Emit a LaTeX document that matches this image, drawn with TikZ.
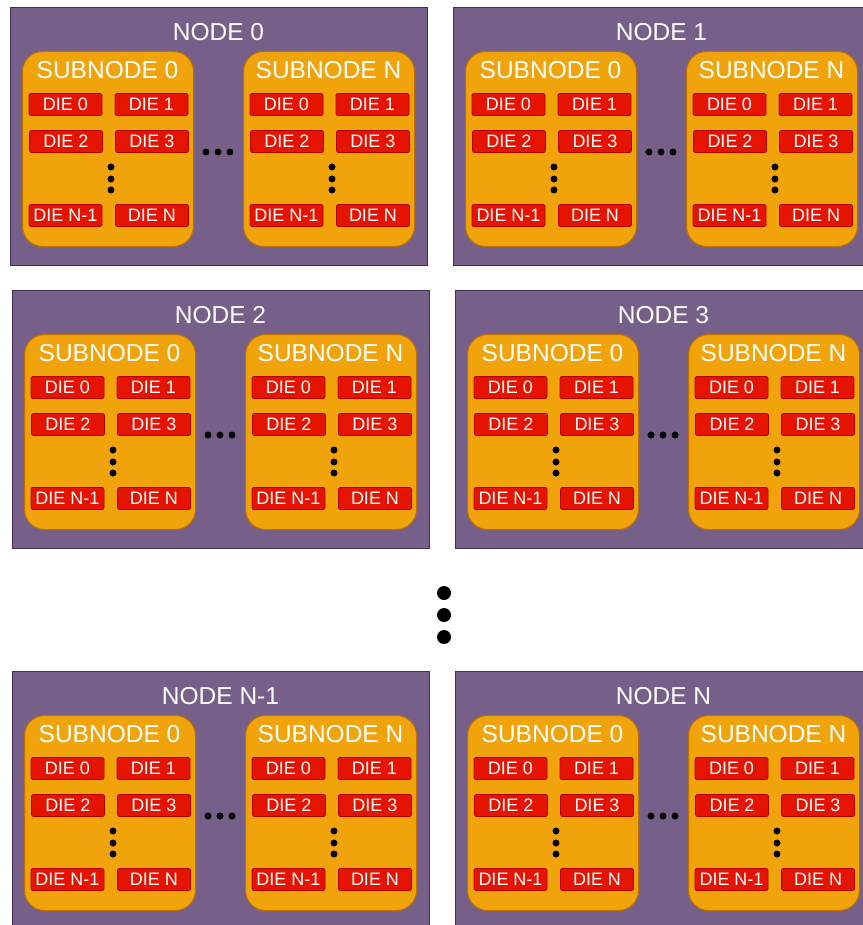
\documentclass[tikz,border=0pt]{standalone}
\usepackage{fontspec}
\setmainfont{Liberation Sans}
\usetikzlibrary{positioning}

\definecolor{nodefill}{HTML}{76608A}
\definecolor{nodeline}{HTML}{432D57}
\definecolor{subfill}{HTML}{F0A30A}
\definecolor{subline}{HTML}{BD7000}
\definecolor{diefill}{HTML}{E51400}
\definecolor{dieline}{HTML}{B20000}

\begin{document}
\begin{tikzpicture}[
    x=1pt, y=-1pt,
    nodebox/.style={draw=nodeline, fill=nodefill, line width=1pt, anchor=north west,
                    inner sep=0pt, minimum width=417pt, minimum height=258pt},
    subbox/.style={draw=subline, fill=subfill, line width=1pt, rounded corners=20pt,
                   anchor=north west, inner sep=0pt, minimum width=171pt, minimum height=195pt},
    diebox/.style={draw=dieline, fill=diefill, line width=0.8pt, rounded corners=2pt,
                   inner sep=0pt, minimum width=73pt, minimum height=22pt,
                   text=white, font=\fontsize{18}{18}\selectfont},
    title/.style={text=white, inner sep=0pt, font=\fontsize{24.5}{25}\selectfont},
    dot/.style={circle, fill=black, inner sep=0pt, minimum size=7pt},
    bigdot/.style={circle, fill=black, inner sep=0pt, minimum size=14pt}
]
\useasboundingbox (0,0) rectangle (862,925);

% the compute nodes
\foreach \nm/\nl/\x/\y in {n0/0/10/7, n1/1/453/7, n2/2/12/290, n3/3/455/290,
                           nm/N-1/12/671, nn/N/455/671} {
  \node[nodebox] (\nm) at (\x,\y) {};
  \node[title] (\nm-t) at (\x+208.5,\y+25) {NODE \nl};
  % subnodes 0 and N
  \foreach \s/\sl/\dx in {a/0/12, b/N/233} {
    \node[subbox] (\nm\s) at (\x+\dx,\y+44) {};
    \node[title] (\nm\s-t) at (\x+\dx+85.5,\y+63) {SUBNODE \sl};
    \node[diebox] (\nm\s-d0) at (\x+\dx+43.5,\y+97.5) {DIE 0};
    \node[diebox] (\nm\s-d1) at (\x+\dx+129.5,\y+97.5) {DIE 1};
    \node[diebox] (\nm\s-d2) at (\x+\dx+44,\y+134.5) {DIE 2};
    \node[diebox] (\nm\s-d3) at (\x+\dx+130,\y+134.5) {DIE 3};
    \node[diebox] (\nm\s-dm) at (\x+\dx+43.5,\y+208.5) {DIE N-1};
    \node[diebox] (\nm\s-dn) at (\x+\dx+130,\y+208.5) {DIE N};
    \foreach \k/\dy in {1/160, 2/172, 3/183}
      \node[dot] (\nm\s-v\k) at (\x+\dx+89,\y+\dy) {};
  }
  \foreach \k/\dx in {1/196, 2/208, 3/220}
    \node[dot] (\nm-h\k) at (\x+\dx,\y+145) {};
}

% more nodes in between
\foreach \k/\y in {1/593, 2/615, 3/637}
  \node[bigdot] (more\k) at (444,\y) {};
\end{tikzpicture}
\end{document}
